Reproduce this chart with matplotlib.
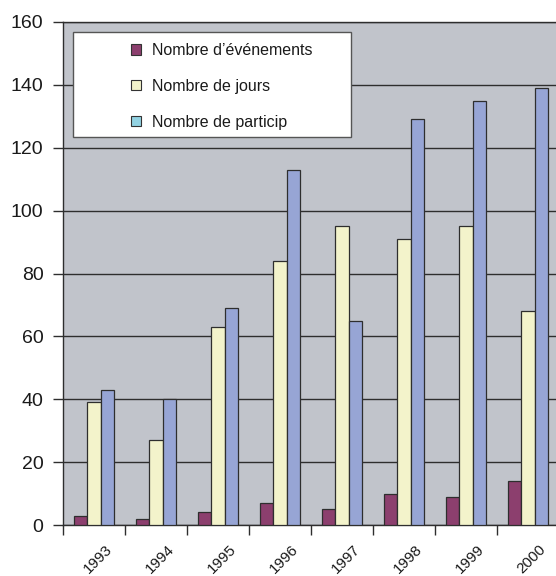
import matplotlib
matplotlib.use("Agg")
import matplotlib.pyplot as plt
from matplotlib.patches import Patch, Rectangle
import numpy as np

plt.rcParams["font.family"] = ["Liberation Sans", "DejaVu Sans"]

years = ["1993", "1994", "1995", "1996", "1997", "1998", "1999", "2000"]
evenements = [3, 2, 4, 7, 5, 10, 9, 14]
jours = [39, 27, 63, 84, 95, 91, 95, 68]
participants = [43, 40, 69, 113, 65, 129, 135, 139]

series_labels = ["Nombre d\u2019\u00e9v\u00e9nements", "Nombre de jours", "Nombre de particip"]
bar_colors = ["#8C3F6E", "#F3F3CB", "#97A5D5"]
legend_colors = ["#8C3F6E", "#F3F3CB", "#92D2E2"]
y_ticks = [0, 20, 40, 60, 80, 100, 120, 140, 160]

W, H = 556, 576
fig = plt.figure(figsize=(W / 100, H / 100), dpi=100)
ax_left, ax_top, ax_bottom = 63, 22, 525
cat_px = 62
ax = fig.add_axes([ax_left / W, (H - ax_bottom) / H,
                   8 * cat_px / W, (ax_bottom - ax_top) / H])
ax.set_facecolor("#C1C4CB")

x = np.arange(len(years))
bw = 0.218
for k, (vals, col) in enumerate(zip([evenements, jours, participants], bar_colors)):
    ax.bar(x + (k - 1) * bw, vals, width=bw, color=col,
           edgecolor="#2E2E2E", linewidth=0.9, zorder=3)

ax.set_xlim(-0.5, len(years) - 0.5)
ax.set_ylim(0, 160)
ax.set_yticks(y_ticks)
ax.set_yticklabels([str(v) for v in y_ticks], fontsize=14, color="#1A1A1A")
ax.yaxis.grid(True, color="#2E2E2E", linewidth=1.0, zorder=1)
ax.set_axisbelow(True)

# category boundaries carry the tick marks; labels are drawn separately
ax.set_xticks(np.arange(-0.5, len(years) + 0.5, 1.0))
ax.set_xticklabels([])
ax.tick_params(axis="x", length=7, width=1.0, color="#2E2E2E", direction="out")
ax.tick_params(axis="y", length=7, width=1.0, color="#2E2E2E", direction="out", pad=7)

for side in ["left", "bottom", "top"]:
    ax.spines[side].set_color("#2E2E2E")
    ax.spines[side].set_linewidth(1.0)
ax.spines["right"].set_visible(False)

ytext = (ax_bottom - 559) / (ax_bottom - ax_top)
for i, lab in enumerate(years):
    ax.text(i + 0.06, ytext, lab, transform=ax.get_xaxis_transform(),
            rotation=45, rotation_mode="anchor", ha="center", va="center",
            fontsize=11, color="#1A1A1A", clip_on=False)

# legend box
def to_axes(px, py):
    return ((px - ax_left) / (8 * cat_px), (ax_bottom - py) / (ax_bottom - ax_top))

x0, y0 = to_axes(73, 137)
x1, y1 = to_axes(351, 32)
ax.add_patch(Rectangle((x0, y0), x1 - x0, y1 - y0, transform=ax.transAxes,
                       facecolor="white", edgecolor="#555555", linewidth=1.0, zorder=5))

handles = [Patch(facecolor=c, edgecolor="#333333", linewidth=0.8) for c in legend_colors]
lx, ly = to_axes(131, 43)
leg = ax.legend(handles, series_labels, loc="upper left", bbox_to_anchor=(lx, ly),
                frameon=False, fontsize=11.5, handlelength=0.62, handleheight=0.62,
                handletextpad=0.7, labelspacing=1.3, borderpad=0.0, borderaxespad=0.0)
leg.set_zorder(6)
for t in leg.get_texts():
    t.set_color("#1A1A1A")

fig.savefig("out.png", dpi=100)
